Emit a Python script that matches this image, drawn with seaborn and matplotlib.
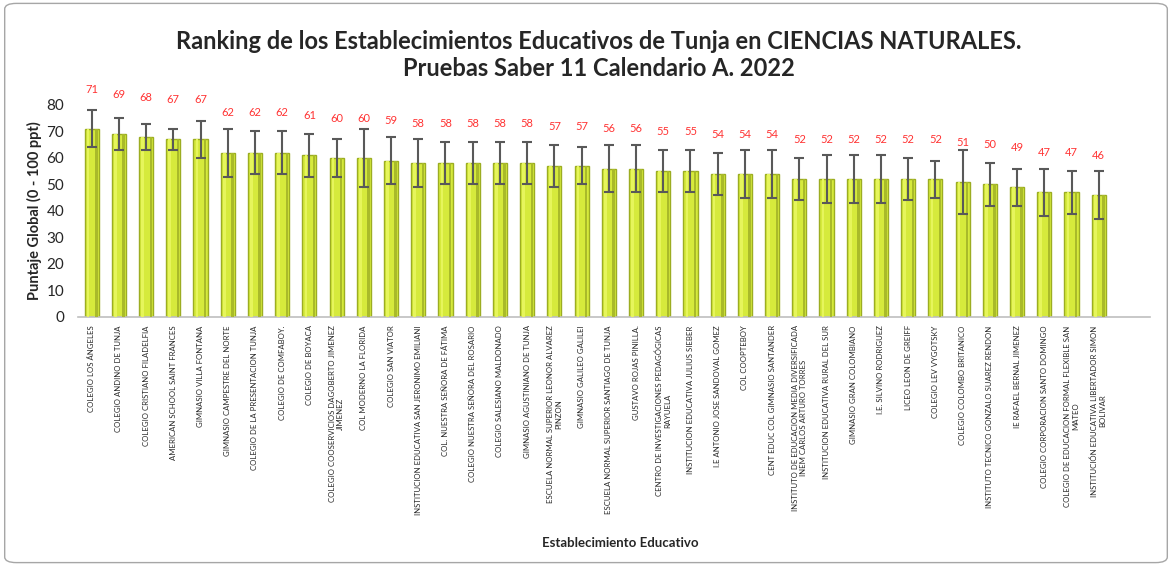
import numpy as np
import pandas as pd
import matplotlib
matplotlib.use("Agg")
import matplotlib.pyplot as plt
import seaborn as sns
from matplotlib.patches import FancyBboxPatch

# === Data ===
colegios = [
    "COLEGIO LOS ÁNGELES",
    "COLEGIO ANDINO DE TUNJA",
    "COLEGIO CRISTIANO FILADELFIA",
    "AMERICAN SCHOOL SAINT FRANCES",
    "GIMNASIO VILLA FONTANA",
    "GIMNASIO CAMPESTRE DEL NORTE",
    "COLEGIO DE LA PRESENTACION TUNJA",
    "COLEGIO DE COMFABOY.",
    "COLEGIO DE BOYACA",
    "COLEGIO COOSERVICIOS DAGOBERTO JIMENEZ\nJIMENEZ",
    "COL MODERNO LA FLORIDA",
    "COLEGIO SAN VIATOR",
    "INSTITUCION EDUCATIVA SAN JERONIMO EMILIANI",
    "COL. NUESTRA SEÑORA DE FÁTIMA",
    "COLEGIO NUESTRA SEÑORA DEL ROSARIO",
    "COLEGIO SALESIANO MALDONADO",
    "GIMNASIO AGUSTINIANO DE TUNJA",
    "ESCUELA NORMAL SUPERIOR LEONOR ALVAREZ\nPINZON",
    "GIMNASIO GALILEO GALILEI",
    "ESCUELA NORMAL SUPERIOR SANTIAGO DE TUNJA",
    "GUSTAVO ROJAS PINILLA.",
    "CENTRO DE INVESTIGACIONES PEDAGÓGICAS\nRAYUELA",
    "INSTITUCION EDUCATIVA JULIUS SIEBER",
    "I.E ANTONIO JOSE SANDOVAL GOMEZ",
    "COL COOPTEBOY",
    "CENT EDUC COL GIMNASIO SANTANDER",
    "INSTITUTO DE EDUCACION MEDIA DIVERSIFICADA\nINEM CARLOS ARTURO TORRES",
    "INSTITUCION EDUCATIVA RURAL DEL SUR",
    "GIMNASIO GRAN COLOMBIANO",
    "I.E. SILVINO RODRIGUEZ",
    "LICEO LEON DE GREIFF",
    "COLEGIO LEV VYGOTSKY",
    "COLEGIO COLOMBO BRITANICO",
    "INSTITUTO TECNICO GONZALO SUAREZ RENDON",
    "IE RAFAEL BERNAL JIMENEZ",
    "COLEGIO CORPORACION SANTO DOMINGO",
    "COLEGIO DE EDUCACION FORMAL FLEXIBLE SAN\nMATEO",
    "INSTITUCIÓN EDUCATIVA LIBERTADOR SIMON\nBOLIVAR",
]
puntaje = [71, 69, 68, 67, 67, 62, 62, 62, 61, 60, 60, 59, 58, 58, 58, 58, 58, 57, 57,
           56, 56, 55, 55, 54, 54, 54, 52, 52, 52, 52, 52, 52, 51, 50, 49, 47, 47, 46]
desviacion = [7, 6, 5, 4, 7, 9, 8, 8, 8, 7, 11, 9, 9, 8, 8, 8, 8, 8, 7,
              9, 9, 8, 8, 8, 9, 9, 8, 9, 9, 9, 8, 7, 12, 8, 7, 9, 8, 9]

df = pd.DataFrame({"Colegio": colegios, "Puntaje": puntaje, "Desv": desviacion})

# === Plot ===
sns.set_style("white")
plt.rcParams["font.family"] = ["Lato", "DejaVu Sans"]

fig = plt.figure(figsize=(11.72, 5.66), dpi=100)
ax = fig.add_axes([0.0666, 0.44, 0.915, 0.3745])

sns.barplot(data=df, x="Colegio", y="Puntaje", color="#d6ea3c", width=0.52,
            edgecolor="#9cad22", linewidth=1.0, saturation=1, errorbar=None, ax=ax)

x = np.arange(len(df))
# darker / lighter strips on each bar for the 3D look
ax.bar(x + 0.17, df["Puntaje"], width=0.09, color="#a9ba2a", linewidth=0, zorder=3)
ax.bar(x - 0.13, df["Puntaje"], width=0.1, color="#e6f55c", linewidth=0, zorder=3)

ax.errorbar(x, df["Puntaje"], yerr=df["Desv"], fmt="none", ecolor="#595959",
            elinewidth=1.5, capsize=3.5, capthick=1.5, zorder=4)

for xi, v in zip(x, df["Puntaje"]):
    ax.text(xi, v + 15, f"{v}", color="#ff3333", fontsize=8, ha="center", va="center",
            clip_on=False)

ax.set_ylim(0, 80)
ax.set_xlim(-0.5, 38.9)
ax.set_yticks(range(0, 81, 10))
ax.tick_params(axis="y", labelsize=11, length=0, pad=10)
ax.tick_params(axis="x", length=0, pad=6)
ax.set_xticks(x)
ax.set_xticklabels(df["Colegio"], rotation=90, fontsize=5.6, va="top", ha="center",
                   multialignment="center")

for side in ["top", "right", "left"]:
    ax.spines[side].set_visible(False)
ax.spines["bottom"].set_color("#bfbfbf")
ax.spines["bottom"].set_linewidth(1.2)

ax.set_ylabel("Puntaje Global (0 - 100 ppt)", fontsize=10.5, fontweight="bold", labelpad=3)
ax.set_xlabel("")
fig.text(0.529, 0.04, "Establecimiento Educativo", fontsize=9.5, fontweight="bold",
         ha="center", va="center")

fig.text(0.511, 0.903, "Ranking de los Establecimientos Educativos de Tunja en CIENCIAS NATURALES.\n"
         "Pruebas Saber 11 Calendario A. 2022", fontsize=17, fontweight="bold",
         ha="center", va="center", linespacing=1.25)

border = FancyBboxPatch((0.004, 0.006), 0.992, 0.988, boxstyle="round,pad=0,rounding_size=0.01",
                        transform=fig.transFigure, facecolor="none", edgecolor="#a6a6a6",
                        linewidth=1.0)
fig.patches.append(border)

fig.savefig("out.png", dpi=100)
